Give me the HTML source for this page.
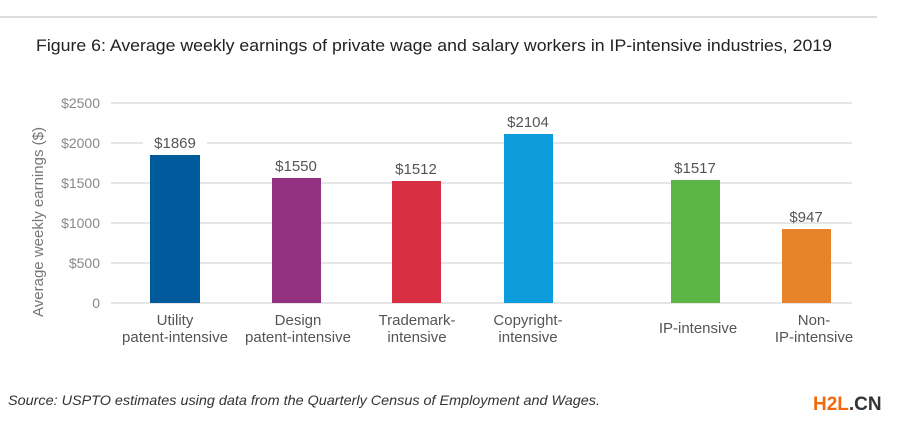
<!DOCTYPE html>
<html><head><meta charset="utf-8"><style>
body{margin:0;background:#fff;width:900px;height:427px;overflow:hidden;font-family:"Liberation Sans","DejaVu Sans",sans-serif}
</style></head><body>
<svg width="900" height="427" xmlns="http://www.w3.org/2000/svg" font-family="Liberation Sans, DejaVu Sans, sans-serif">
<line x1="0" y1="17" x2="877" y2="17" stroke="#bbb" stroke-width="1"/>
<text x="36" y="51" font-size="17" fill="#222" textLength="796" lengthAdjust="spacingAndGlyphs">Figure 6: Average weekly earnings of private wage and salary workers in IP-intensive industries, 2019</text>
<g stroke="#ccc" stroke-width="1">
<line x1="111" y1="103" x2="852" y2="103"/>
<line x1="111" y1="143" x2="852" y2="143"/>
<line x1="111" y1="183" x2="852" y2="183"/>
<line x1="111" y1="223" x2="852" y2="223"/>
<line x1="111" y1="263" x2="852" y2="263"/>
<line x1="111" y1="303" x2="852" y2="303"/>
</g>
<g font-size="14" fill="#888" text-anchor="end">
<text x="100" y="108">$2500</text>
<text x="100" y="148">$2000</text>
<text x="100" y="188">$1500</text>
<text x="100" y="228">$1000</text>
<text x="100" y="268">$500</text>
<text x="100" y="308">0</text>
</g>
<text transform="translate(43,222) rotate(-90)" font-size="15" fill="#777" text-anchor="middle" textLength="190" lengthAdjust="spacingAndGlyphs">Average weekly earnings ($)</text>
<rect x="150" y="155" width="50" height="148" fill="#005b9d"/>
<rect x="272" y="178" width="49" height="125" fill="#933180"/>
<rect x="392" y="181" width="49" height="122" fill="#d92f42"/>
<rect x="504" y="134" width="49" height="169" fill="#0c9bdb"/>
<rect x="671" y="180" width="49" height="123" fill="#5db548"/>
<rect x="782" y="229" width="49" height="74" fill="#e6832b"/>
<g font-size="15" fill="#555" text-anchor="middle">
<rect x="143" y="135" width="64" height="16" fill="#fff"/>
<text x="175" y="148">$1869</text>
<text x="296" y="171">$1550</text>
<text x="416" y="174">$1512</text>
<text x="528" y="127">$2104</text>
<text x="695" y="173">$1517</text>
<text x="806" y="222">$947</text>
</g>
<g font-size="15" fill="#555" text-anchor="middle">
<text x="175" y="325">Utility</text><text x="175" y="342">patent-intensive</text>
<text x="298" y="325">Design</text><text x="298" y="342">patent-intensive</text>
<text x="417" y="325">Trademark-</text><text x="417" y="342">intensive</text>
<text x="528" y="325">Copyright-</text><text x="528" y="342">intensive</text>
<text x="698" y="333">IP-intensive</text>
<text x="814" y="325">Non-</text><text x="814" y="342">IP-intensive</text>
</g>
<text x="8" y="405" font-size="14" font-style="italic" fill="#333" textLength="592" lengthAdjust="spacingAndGlyphs">Source: USPTO estimates using data from the Quarterly Census of Employment and Wages.</text>
<text x="813" y="410" font-size="19" font-weight="bold" fill="#f26a10">H2L<tspan fill="#333">.CN</tspan></text>
</svg>
</body></html>
